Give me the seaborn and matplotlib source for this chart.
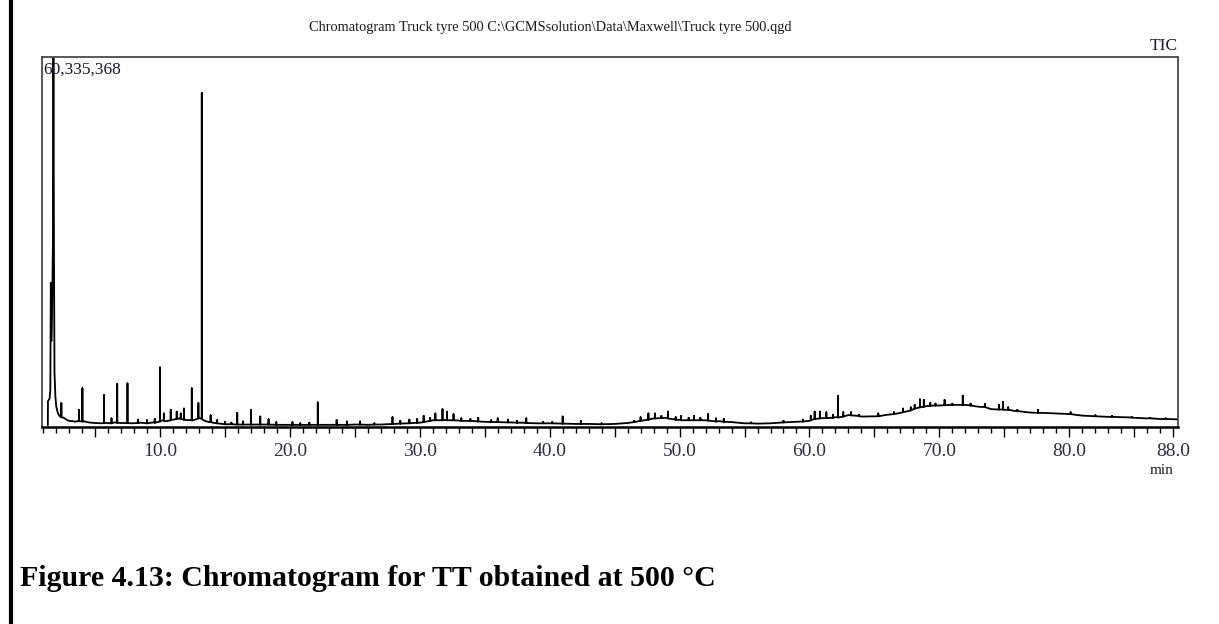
import numpy as np
import pandas as pd
import matplotlib
matplotlib.use("Agg")
import matplotlib.pyplot as plt
import seaborn as sns
from matplotlib.lines import Line2D
from matplotlib.ticker import FixedLocator, MultipleLocator, FuncFormatter

# ---------------- data (retention time in min, TIC in millions of counts) -------------
base_rt = [1.37, 1.38, 1.50, 1.56, 1.60, 1.64, 1.70, 1.76, 1.80, 1.84, 1.88, 1.95, 2.02, 2.15, 2.30,
           2.6, 2.8, 3.0, 3.3, 3.5, 3.7, 4.2, 4.5, 5.0, 5.5, 6.0, 6.5, 7.0, 7.8, 8.5, 9.0, 9.5,
           10.2, 10.5, 11.0, 11.5, 12.0, 12.5, 13.0, 13.5, 13.8, 14.2, 14.6, 15.2, 16.0, 17.0,
           18.0, 19.0, 20.0, 21.0, 22.0, 23.0, 24.0, 25.0, 26.0, 27.0, 28.0, 29.0, 30.0, 31.0,
           32.0, 33.0, 34.0, 35.0, 36.0, 37.0, 38.0, 39.0, 40.0, 41.0, 42.0, 43.0, 44.0, 45.0,
           46.0, 47.0, 48.0, 49.0, 50.0, 51.0, 52.0, 53.0, 54.0, 55.0, 56.0, 57.0, 58.0, 59.0,
           60.0, 61.0, 62.0, 63.0, 64.0, 65.0, 66.0, 67.0, 68.0, 69.0, 70.0, 71.0, 72.0, 73.0,
           74.0, 75.0, 76.0, 77.0, 78.0, 79.0, 80.0, 81.0, 82.0, 83.0, 84.0, 85.0, 86.0, 87.0, 88.33]
base_tic = [0.3, 4.2, 4.6, 6.0, 23.5, 14.0, 19.0, 30.0, 60.335368, 30.0, 9.0, 5.0, 3.3, 2.2, 1.7,
            1.5, 1.2, 1.0, 0.95, 0.85, 1.0, 0.9, 0.75, 0.65, 0.6, 0.65, 0.75, 0.65, 0.6, 0.7, 0.6, 0.75,
            1.1, 0.95, 1.2, 1.4, 1.15, 1.05, 1.5, 0.95, 0.8, 0.65, 0.55, 0.45, 0.4, 0.4,
            0.4, 0.35, 0.35, 0.35, 0.35, 0.35, 0.35, 0.4, 0.35, 0.4, 0.5, 0.6, 0.7, 1.1,
            1.15, 1.05, 1.0, 0.85, 0.8, 0.75, 0.7, 0.6, 0.6, 0.55, 0.5, 0.5, 0.45, 0.5,
            0.65, 1.0, 1.4, 1.5, 1.15, 1.1, 1.1, 0.95, 0.8, 0.6, 0.55, 0.6, 0.75, 0.85,
            1.0, 1.45, 1.6, 1.95, 1.7, 1.75, 2.0, 2.3, 2.9, 3.4, 3.5, 3.6, 3.6, 3.3,
            2.9, 2.8, 2.55, 2.35, 2.3, 2.2, 2.1, 1.85, 1.75, 1.65, 1.6, 1.5, 1.4, 1.3, 1.25]

peak_rt = [2.41, 3.77, 4.03, 5.70, 6.27, 6.71, 7.50, 8.3, 9.0, 9.6, 10.0, 10.3, 10.83, 11.29, 11.6,
           11.85, 12.45, 12.96, 13.22, 13.9, 14.4, 15.0, 15.5, 15.95, 16.4, 17.0, 17.72, 18.36,
           18.96, 20.2, 20.8, 21.5, 22.15, 23.6, 24.4, 25.4, 26.5, 27.9, 28.5, 29.2, 29.8, 30.3,
           30.8, 31.2, 31.75, 32.1, 32.6, 33.2, 33.9, 34.5, 35.5, 36.0, 36.8, 37.5, 38.2, 39.5,
           40.2, 41.0, 42.4, 44.0, 46.5, 47.0, 47.6, 48.1, 48.6, 49.1, 49.7, 50.1, 50.7, 51.1,
           51.6, 52.2, 52.8, 53.4, 55.5, 58.0, 59.5, 60.1, 60.4, 60.8, 61.3, 61.8, 62.2, 62.6,
           63.2, 63.8, 65.3, 66.5, 67.2, 67.8, 68.1, 68.5, 68.8, 69.3, 69.7, 70.4, 71.0, 71.8,
           72.4, 73.5, 74.6, 74.9, 75.3, 76.0, 77.6, 80.1, 82.0, 83.3, 84.8, 86.2, 87.4]
peak_foot = [1.6, 0.95, 0.9, 0.65, 0.6, 0.7, 0.65, 0.65, 0.6, 0.7, 0.9, 1.0, 1.1, 1.3, 1.3,
             1.2, 1.1, 1.4, 1.3, 0.8, 0.6, 0.45, 0.45, 0.4, 0.4, 0.4, 0.4, 0.4,
             0.35, 0.35, 0.35, 0.35, 0.35, 0.35, 0.35, 0.4, 0.4, 0.5, 0.55, 0.6, 0.7, 0.8,
             1.0, 1.1, 1.1, 1.1, 1.1, 1.0, 1.0, 0.9, 0.8, 0.8, 0.75, 0.7, 0.65, 0.6,
             0.6, 0.55, 0.5, 0.45, 0.8, 1.0, 1.2, 1.4, 1.45, 1.4, 1.2, 1.1, 1.1, 1.1,
             1.1, 1.05, 0.9, 0.85, 0.6, 0.75, 0.9, 1.1, 1.3, 1.4, 1.45, 1.5, 1.55, 1.7,
             1.9, 1.8, 1.75, 2.1, 2.4, 2.7, 3.0, 3.2, 3.3, 3.45, 3.5, 3.55, 3.6, 3.6,
             3.5, 3.25, 2.85, 2.85, 2.8, 2.6, 2.3, 2.1, 1.75, 1.65, 1.55, 1.42, 1.3]
peak_top = [3.9, 2.8, 6.3, 5.2, 1.4, 7.0, 7.1, 1.2, 1.1, 1.3, 9.7, 2.2, 2.8, 2.5, 2.2,
            3.0, 6.3, 3.9, 54.4, 1.9, 1.1, 0.8, 0.7, 2.3, 0.9, 2.8, 1.7, 1.25,
            0.8, 0.8, 0.6, 0.7, 4.0, 1.14, 0.9, 0.9, 0.6, 1.6, 1.0, 1.2, 1.3, 1.8,
            1.5, 2.2, 2.9, 2.5, 2.1, 1.4, 1.3, 1.5, 1.1, 1.4, 1.2, 1.0, 1.4, 0.8,
            0.8, 1.7, 0.95, 0.6, 1.0, 1.6, 2.2, 2.2, 1.8, 2.5, 1.6, 1.8, 1.5, 1.8,
            1.5, 2.1, 1.4, 1.3, 0.75, 1.0, 1.2, 1.8, 2.5, 2.5, 2.4, 2.0, 5.1, 2.4,
            2.4, 2.0, 2.2, 2.4, 3.0, 3.2, 3.6, 4.5, 4.4, 3.9, 3.8, 4.4, 3.8, 5.1,
            3.8, 3.75, 3.6, 4.1, 3.2, 2.8, 2.8, 2.4, 1.9, 1.8, 1.6, 1.5, 1.4]

max_label = "60,335,368"
x_tick_major = [5, 10, 15, 20, 25, 30, 35, 40, 45, 50, 55, 60, 65, 70, 75, 80, 85, 88]
x_tick_labeled = [10, 20, 30, 40, 50, 60, 70, 80, 88]

# ---------------- build trace table ----------------
rows = [(t, v, 0) for t, v in zip(base_rt, base_tic)]
for t, f, p in zip(peak_rt, peak_foot, peak_top):
    rows += [(t, f, 1), (t, p, 2), (t, f, 3)]
df = pd.DataFrame(rows, columns=["rt", "tic", "k"]).sort_values(["rt", "k"], kind="mergesort")

# ---------------- style ----------------
sns.set_style("white")
plt.rcParams["font.family"] = ["Liberation Serif", "DejaVu Serif"]

fig = plt.figure(figsize=(12.19, 6.24), dpi=100)
W, H = 1219, 624
ax = fig.add_axes([42 / W, 1 - 427 / H, (1177.5 - 42) / W, (427 - 56.5) / H])

sns.lineplot(data=df, x="rt", y="tic", estimator=None, sort=False, color="black",
             linewidth=1.3, ax=ax)

ax.set_xlim(0.92, 88.33)
ax.set_ylim(0, 60.335368)
ax.set_xlabel("")
ax.set_ylabel("")
ax.set_yticks([])

ax.xaxis.set_major_locator(FixedLocator(x_tick_major))
ax.xaxis.set_minor_locator(MultipleLocator(1))
ax.xaxis.set_major_formatter(FuncFormatter(
    lambda v, p: f"{v:.1f}" if any(abs(v - q) < 1e-6 for q in x_tick_labeled) else ""))
ax.tick_params(axis="x", which="major", direction="out", length=7, width=1.0, color="black",
               labelsize=14, labelcolor="#2e2e3c", pad=4.5, bottom=True)
ax.tick_params(axis="x", which="minor", direction="out", length=4, width=1.0, color="black",
               bottom=True)

for s in ["top", "right", "left"]:
    ax.spines[s].set_color("#4a4a4a")
    ax.spines[s].set_linewidth(1.3)
ax.spines["bottom"].set_color("black")
ax.spines["bottom"].set_linewidth(1.8)

# ---------------- texts ----------------
fig.text(550 / W, 1 - 27 / H,
         "Chromatogram Truck tyre 500 C:\\GCMSsolution\\Data\\Maxwell\\Truck tyre 500.qgd",
         ha="center", va="center", fontsize=10.4, color="#1a1a1a")
fig.text(1178 / W, 1 - 46 / H, "TIC", ha="right", va="center", fontsize=12.5, color="#1a1a2a")
fig.text(43 / W, 1 - 69.5 / H, max_label, ha="left", va="center", fontsize=12.5,
         color="#1a1a2a", zorder=1)
fig.text(1162 / W, 1 - 471 / H, "min", ha="center", va="center", fontsize=11, color="#1a1a1a")
fig.text(20 / W, 1 - 578 / H, "Figure 4.13: Chromatogram for TT obtained at 500 \u00b0C",
         ha="left", va="center", fontsize=21.5, fontweight="bold", color="black")

fig.add_artist(Line2D([10.5 / W, 10.5 / W], [0, 1], color="black", linewidth=3.0,
                      transform=fig.transFigure))

fig.savefig("out.png", dpi=100, facecolor="white")
